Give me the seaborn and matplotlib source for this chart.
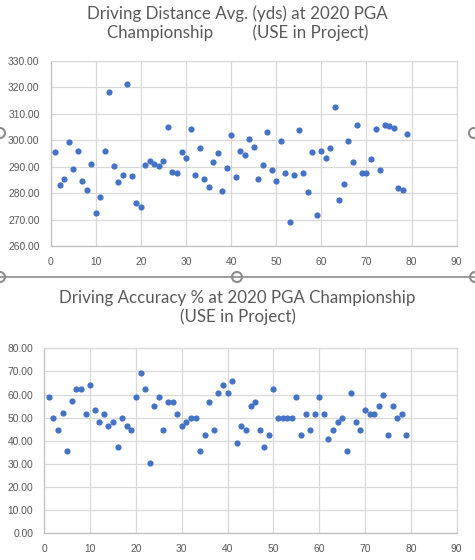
import matplotlib
matplotlib.use("Agg")
from matplotlib import pyplot as plt
from matplotlib.lines import Line2D
from matplotlib.patches import Circle
import seaborn as sns
import pandas as pd
import numpy as np

# jogador (indice 1..79)
player = list(range(1, 80))

# Driving Distance Avg. (yds)
distance = [
    295.5, 283.0, 285.2, 299.2, 289.0, 295.8, 284.5, 281.1, 290.9, 272.4,
    278.7, 295.8, 318.1, 290.2, 284.1, 286.7, 321.2, 286.4, 276.2, 274.6,
    290.5, 292.2, 291.0, 290.2, 292.0, 304.9, 287.9, 287.5, 295.4, 293.2,
    304.1, 286.7, 297.0, 285.2, 282.2, 291.7, 295.1, 280.7, 289.4, 301.9,
    286.0, 296.0, 294.3, 300.4, 297.3, 285.2, 290.5, 303.0, 288.6, 284.5,
    299.6, 287.5, 269.0, 286.7, 303.8, 287.5, 280.3, 295.4, 271.6, 295.8,
    293.2, 297.0, 312.5, 277.3, 283.3, 299.6, 291.7, 305.7, 287.5, 287.5,
    292.8, 304.1, 288.6, 305.7, 305.3, 304.5, 281.8, 281.1, 302.3,
]

# Driving Accuracy %
accuracy = [
    59.0, 49.9, 44.8, 51.8, 35.7, 57.0, 62.3, 62.3, 51.5, 64.0,
    53.2, 48.0, 51.5, 46.3, 48.0, 37.2, 49.7, 46.3, 44.5, 58.8,
    69.2, 62.3, 30.3, 54.9, 58.8, 44.5, 56.6, 56.6, 51.5, 46.3,
    48.0, 49.7, 49.7, 35.5, 42.4, 56.6, 44.5, 60.5, 64.0, 60.5,
    65.7, 38.9, 46.3, 44.5, 54.9, 56.6, 44.5, 37.2, 42.4, 62.3,
    49.7, 49.7, 49.7, 49.7, 58.8, 42.4, 51.5, 44.5, 51.5, 58.8,
    51.5, 40.6, 44.5, 48.0, 49.7, 35.5, 60.5, 48.0, 44.5, 53.2,
    51.5, 51.5, 54.9, 59.7, 42.4, 54.9, 49.7, 51.5, 42.4,
]

title_top = "Driving Distance Avg. (yds) at 2020 PGA\nChampionship         (USE in Project)"
title_bottom = "Driving Accuracy % at 2020 PGA Championship\n(USE in Project)"

BLUE = "#4472C4"
GRAY_TXT = "#595959"
GRID = "#D9D9D9"

df = pd.DataFrame({"player": player, "distance": distance, "accuracy": accuracy})

sns.set_theme(style="white")
plt.rcParams["font.family"] = ["Liberation Sans", "DejaVu Sans"]

fig = plt.figure(figsize=(4.75, 5.6), dpi=100)
ax1 = fig.add_axes([0.1067, 0.5607, 0.8548, 0.3304])
ax2 = fig.add_axes([0.0933, 0.0477, 0.8682, 0.3304])


def estilo(ax, ymin, ymax, ystep):
    ax.set_xlim(0, 90)
    ax.set_xticks(np.arange(0, 91, 10))
    ax.set_ylim(ymin, ymax)
    ax.set_yticks(np.arange(ymin, ymax + 0.1, ystep))
    ax.set_yticklabels([f"{v:.2f}" for v in np.arange(ymin, ymax + 0.1, ystep)])
    ax.grid(True, color=GRID, linewidth=0.9)
    ax.set_axisbelow(True)
    for s in ax.spines.values():
        s.set_color(GRID)
        s.set_linewidth(0.9)
    ax.spines["left"].set_color("#BFBFBF")
    ax.spines["bottom"].set_color("#BFBFBF")
    ax.tick_params(axis="both", length=0, labelsize=7.4, labelcolor=GRAY_TXT, pad=8)
    ax.set_xlabel("")
    ax.set_ylabel("")


sns.scatterplot(data=df, x="player", y="distance", ax=ax1, color=BLUE,
                s=20, linewidth=0)
estilo(ax1, 260, 330, 10)

sns.scatterplot(data=df, x="player", y="accuracy", ax=ax2, color=BLUE,
                s=20, linewidth=0)
estilo(ax2, 0, 80, 10)

fig.text(0.5, 0.99, title_top, ha="center", va="top", fontsize=12.2,
         color=GRAY_TXT, family=["Lato", "DejaVu Sans"], linespacing=1.2)
fig.text(0.5, 0.483, title_bottom, ha="center", va="top", fontsize=12.2,
         color=GRAY_TXT, family=["Lato", "DejaVu Sans"], linespacing=1.2)

# alças de seleção do gráfico (Excel)
H = 560
fig.add_artist(Line2D([0, 1], [1 - 277 / H, 1 - 277 / H], color="#8C8C8C",
                      linewidth=1.2, transform=fig.transFigure))
for cx, cy in [(0, 277), (237, 277), (475, 277), (0, 133), (474, 133)]:
    fig.add_artist(Circle((cx, H - cy), 5, transform=None, facecolor="white",
                          edgecolor="#8C8C8C", linewidth=1.5))

fig.savefig("out.png", dpi=100)
